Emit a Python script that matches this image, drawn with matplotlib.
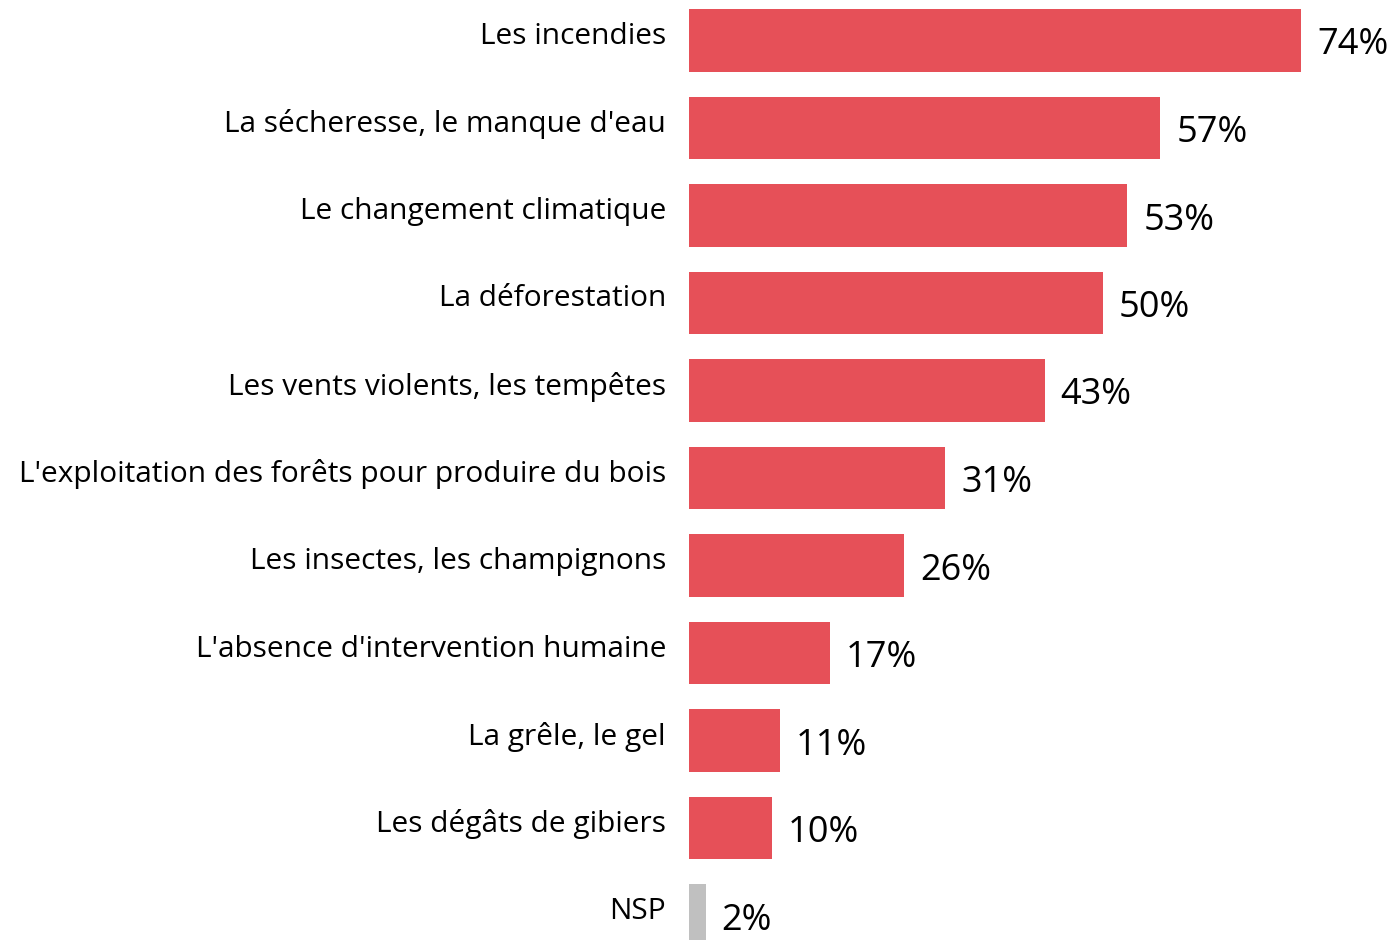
import numpy as np
import matplotlib.pyplot as plt

categories = [
    "Les incendies",
    "La sécheresse, le manque d'eau",
    "Le changement climatique",
    "La déforestation",
    "Les vents violents, les tempêtes",
    "L'exploitation des forêts pour produire du bois",
    "Les insectes, les champignons",
    "L'absence d'intervention humaine",
    "La grêle, le gel",
    "Les dégâts de gibiers",
    "NSP",
]
values = [74, 57, 53, 50, 43, 31, 26, 17, 11, 10, 2]
colors = ["#E65058"] * 10 + ["#C0C0C0"]

plt.rcParams['font.family'] = ['Open Sans', 'DejaVu Sans']

W, H = 1394, 940
fig = plt.figure(figsize=(W / 100, H / 100), dpi=100)
# axes from x=689 px to the right edge, full height
ax = fig.add_axes([689 / W, 0, 1 - 689 / W, 1])

y = np.arange(len(categories))
ax.barh(y, values, height=0.71, color=colors)

px_per_unit = 8.27
ax.set_xlim(0, (W - 689) / px_per_unit)
ax.set_ylim(10 + (H - 915.5) / 87.5, -40.5 / 87.5)

for yi, v in zip(y, values):
    ax.annotate(f"{v}%", xy=(v, yi), xytext=(16, -5), textcoords='offset pixels',
                va='center', ha='left', fontsize=26, color='black',
                annotation_clip=False)

for yi, c in zip(y, categories):
    ax.annotate(c, xy=(0, yi), xytext=(-23, 4), textcoords='offset pixels',
                va='center', ha='right', fontsize=21.5, color='black',
                annotation_clip=False)

ax.axis('off')
fig.savefig('out.png', dpi=100)
